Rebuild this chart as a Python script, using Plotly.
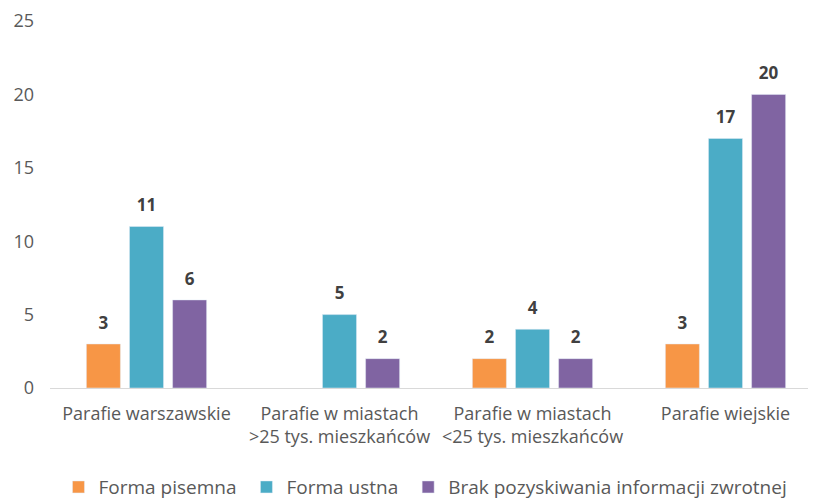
import plotly.graph_objects as go

categories = ["Parafie warszawskie", "Parafie w miastach<br>>25 tys. mieszkańców",
              "Parafie w miastach<br><25 tys. mieszkańców", "Parafie wiejskie"]
series_names = ["Forma pisemna", "Forma ustna", "Brak pozyskiwania informacji zwrotnej"]
pisemna = [3, None, 2, 3]
ustna = [11, 5, 4, 17]
brak = [6, 2, 2, 20]
colors = ["#F79646", "#4BACC6", "#8064A2"]

FONT = "Open Sans"
PAD = "\u00a0"

fig = go.Figure()
for i, (name, vals, col) in enumerate(zip(series_names, [pisemna, ustna, brak], colors)):
    fig.add_trace(go.Bar(
        x=categories, y=vals, name=name + PAD, marker_color=col,
        offsetgroup=str(i), alignmentgroup="a",
    ))
for i, vals in enumerate([pisemna, ustna, brak]):
    fig.add_trace(go.Scatter(
        x=categories, y=vals, mode="markers+text",
        text=[("" if v is None else str(v)) for v in vals],
        textposition="top center", cliponaxis=False,
        marker=dict(size=16, opacity=0),
        textfont=dict(family=FONT, size=17, color="#404040", weight="bold"),
        showlegend=False, hoverinfo="skip",
        offsetgroup=str(i), alignmentgroup="a",
    ))

fig.update_layout(
    width=816, height=499,
    margin=dict(l=42, r=2, t=13, b=119, autoexpand=False),
    plot_bgcolor="white", paper_bgcolor="white",
    barmode="group", scattermode="group", bargap=0.33, bargroupgap=0.21,
    font=dict(family=FONT, size=18, color="#595959"),
    showlegend=True,
    legend=dict(orientation="h", x=0.4896, xanchor="center", y=-0.27, yanchor="middle",
                font=dict(family=FONT, size=19, color="#595959"), traceorder="normal",
                itemwidth=30),
    yaxis=dict(range=[0, 25], dtick=5, showgrid=False, zeroline=False,
               showline=False, tickfont=dict(family=FONT, size=18, color="#595959"),
               ticklabelstandoff=15, automargin=False, ticklabeloverflow="allow"),
    xaxis=dict(showline=True, linecolor="#D9D9D9", linewidth=1, automargin=False,
               ticklabelstandoff=9, ticklabeloverflow="allow",
               tickfont=dict(family=FONT, size=18, color="#595959")),
)

fig.write_html("out.html")
